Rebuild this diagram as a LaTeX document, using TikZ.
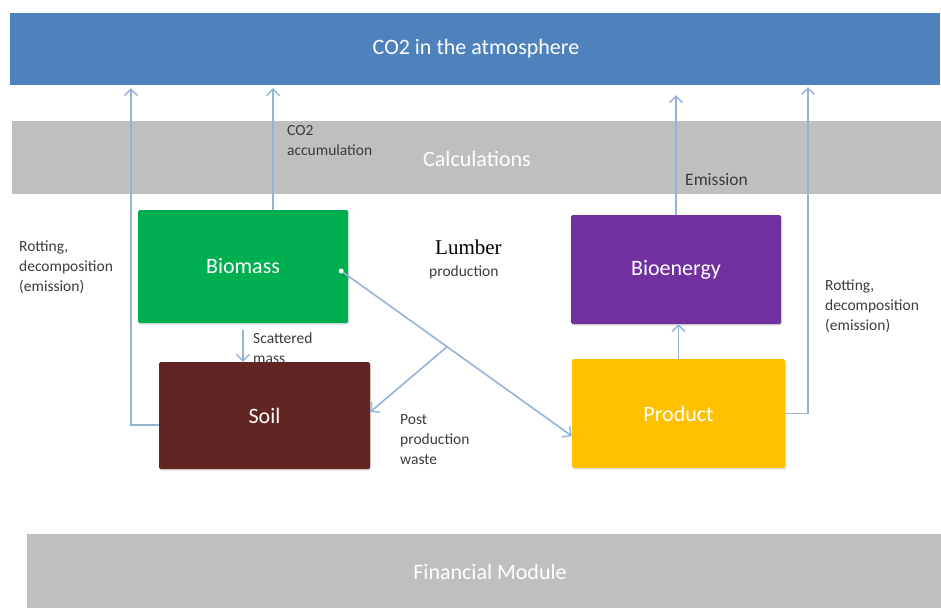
\documentclass[tikz,border=0pt]{standalone}
\usepackage{fontspec}
\setmainfont{Carlito}
\newfontfamily\lumberfont{Liberation Serif}
\usetikzlibrary{arrows.meta,shadows}
\definecolor{cblue}{HTML}{4F81BD}
\definecolor{cgray}{HTML}{BFBFBF}
\definecolor{cgreen}{HTML}{00B050}
\definecolor{csoil}{HTML}{632523}
\definecolor{cpurple}{HTML}{7030A0}
\definecolor{cyellow}{HTML}{FFC000}
\definecolor{carrow}{HTML}{95B3D7}
\definecolor{clabel}{HTML}{3C3C3C}
\begin{document}
\begin{tikzpicture}[x=1pt,y=-1pt,
  box/.style={rectangle, rounded corners=1.5pt, inner sep=0pt, text=white,
    font=\fontsize{22}{26}\selectfont,
    drop shadow={opacity=0.25, shadow xshift=1pt, shadow yshift=-1.5pt}},
  band/.style={rectangle, inner sep=0pt, fill=cgray, text=white,
    font=\fontsize{22}{26}\selectfont},
  flow/.style={draw=carrow, line width=1.6pt,
    -{Straight Barb[length=6.5pt, width=13pt, line width=1.4pt]}},
  lbl/.style={text=clabel, font=\fontsize{15.5}{20}\selectfont, align=left,
    inner sep=0pt, anchor=west}]
\useasboundingbox (0,0) rectangle (941,608);

% bands
\node[band, fill=cblue, minimum width=930pt, minimum height=72pt] (co2) at (475,49) {};
\node[text=white, font=\fontsize{22}{26}\selectfont] (co2t) at (476,49) {CO2 in the atmosphere};
\node[band, minimum width=929pt, minimum height=73pt] (calc) at (476.5,157.5) {};
\node[text=white, font=\fontsize{22}{26}\selectfont] (calct) at (477,159) {Calculations};
\node[band, minimum width=914pt, minimum height=74pt] (fin) at (484,571) {};
\node[text=white, font=\fontsize{22}{26}\selectfont] (fint) at (490,572) {Financial Module};

% boxes
\node[box, fill=cgreen, minimum width=210pt, minimum height=113pt] (biomass) at (243,266.5) {Biomass};
\node[box, fill=csoil, minimum width=211pt, minimum height=107pt] (soil) at (264.5,415.5) {Soil};
\node[box, fill=cpurple, minimum width=210pt, minimum height=109pt] (bioenergy) at (676,269.5) {Bioenergy};
\node[box, fill=cyellow, minimum width=213pt, minimum height=109pt] (product) at (678.5,413.5) {Product};

% helper coordinates
\coordinate (lx) at (131,0);
\coordinate (rx) at (808,0);
\coordinate (bt) at ([xshift=30pt]biomass.north);
\coordinate (dot) at ([xshift=-7pt,yshift=-4.5pt]biomass.east);
\coordinate (pend) at ([yshift=-22.5pt]product.west);
\coordinate (send) at ([yshift=3.5pt]soil.east);

% connectors
\draw[flow, shorten >=3pt] ([yshift=-9.5pt]soil.west) -| (lx |- co2.south);
\draw[flow, shorten >=3pt] (bt) -- (bt |- co2.south);
\draw[flow, shorten >=10pt] (bioenergy.north) -- (bioenergy.north |- co2.south);
\draw[flow, shorten >=2pt] (product.east) -| (rx |- co2.south);
\draw[flow] (product.north) -- (product.north |- bioenergy.south);
\draw[flow, shorten <=7pt] (biomass.south) -- (biomass.south |- soil.north);
\draw[flow] (dot) -- coordinate[pos=0.459] (br) (pend);
\draw[flow] (br) -- (send);
\fill[white] (dot) circle (2.5pt);

% labels
\node[lbl] (lacc) at (287,141) {CO2\\accumulation};
\node[lbl, font=\fontsize{17.5}{20}\selectfont] (lemi) at (685,180) {Emission};
\node[lbl] (lrotl) at (19,267) {Rotting,\\decomposition\\(emission)};
\node[lbl, text=black, font=\lumberfont\fontsize{21}{24}\selectfont] (llum) at (435,247) {Lumber};
\node[lbl] (lprod) at (429,272) {production};
\node[lbl] (lsca) at (253,348) {Scattered\\mass};
\node[lbl] (lpost) at (400,440) {Post\\production\\waste};
\node[lbl] (lrotr) at (825,306) {Rotting,\\decomposition\\(emission)};
\end{tikzpicture}
\end{document}
